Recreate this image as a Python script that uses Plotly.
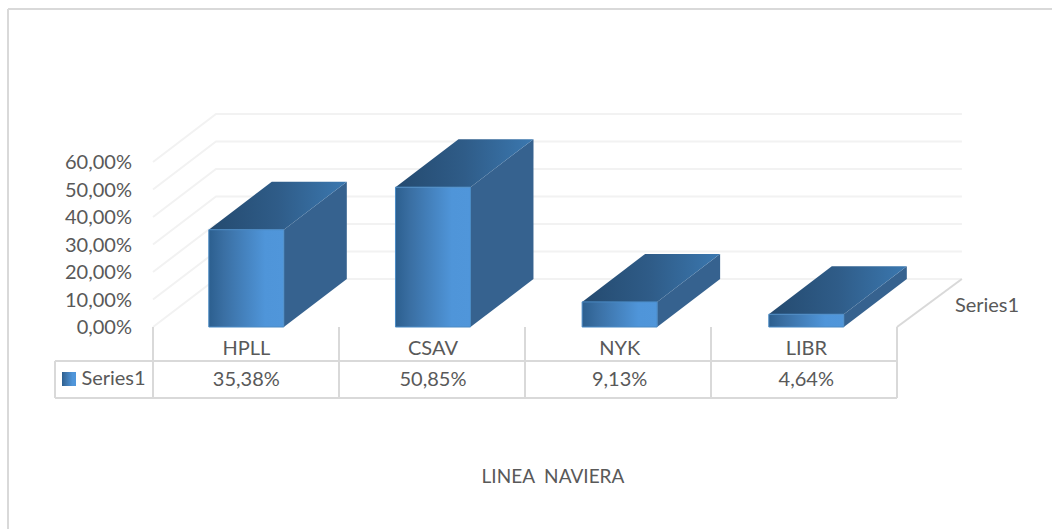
import plotly.graph_objects as go

categories = ["HPLL", "CSAV", "NYK", "LIBR"]
values = [35.38, 50.85, 9.13, 4.64]
value_labels = ["35,38%", "50,85%", "9,13%", "4,64%"]
y_ticks = [0, 10, 20, 30, 40, 50, 60]
y_tick_labels = ["0,00%", "10,00%", "20,00%", "30,00%", "40,00%", "50,00%", "60,00%"]
series_name = "Series1"
axis_title = "LINEA  NAVIERA"

W, H = 1052, 529
FONT = "Lato"
TXT = "#595959"
FS = 20
CAT_PX = 186.67
X0_PX = 246.3          # pixel of first category centre
Y0_PX = 327.0          # pixel of value 0 on the front plane
PX_PER_UNIT = 2.75


def X(px):
    return (px - X0_PX) / CAT_PX


def Y(py):
    return (Y0_PX - py) / PX_PER_UNIT


DX = 63 / CAT_PX
DY = 48 / PX_PER_UNIT
BAR_W = 75 / CAT_PX
LEFT, RIGHT = X(153), X(897)

fig = go.Figure()


def line(xs, ys, color, width):
    fig.add_trace(go.Scatter(x=xs, y=ys, mode="lines", hoverinfo="skip",
                             line=dict(color=color, width=width)))


def poly(xs, ys, fill=None, grad=None, edge="rgba(0,0,0,0)"):
    kw = dict(fillcolor=fill) if fill else dict(
        fillgradient=dict(type="horizontal", colorscale=grad))
    fig.add_trace(go.Scatter(x=xs + xs[:1], y=ys + ys[:1], mode="lines", fill="toself",
                             hoverinfo="skip", line=dict(color=edge, width=1), **kw))


def label(px, py, text, size=FS):
    fig.add_trace(go.Scatter(x=[X(px)], y=[Y(py)], text=[text], mode="text", hoverinfo="skip",
                             textfont=dict(family=FONT, size=size, color=TXT)))


# walls: gridlines on the left wall and back wall
GRID = "#f2f2f2"
for t in y_ticks:
    line([LEFT, LEFT + DX, RIGHT + DX + 0.01], [t, t + DY, t + DY], GRID, 2)

# floor edge at the right
line([RIGHT, RIGHT + DX + 0.01], [0, DY], "#d9d9d9", 2)

# bars
FRONT = [[0, "#2c5f8f"], [0.2, "#3a6fa3"], [0.75, "#4f95d9"], [1, "#5096da"]]
TOP = [[0, "#244a6f"], [0.5, "#2f5c88"], [1, "#3b78b0"]]
SIDE = "#36628f"
EDGE = "#4a8ac4"
for i, v in enumerate(values):
    l, r = i - BAR_W / 2, i + BAR_W / 2
    poly([r, r + DX, r + DX, r], [0, DY, v + DY, v], fill=SIDE)
    poly([l, r, r + DX, l + DX], [v, v, v + DY, v + DY], grad=TOP)
    poly([l, r, r, l], [0, 0, v, v], grad=FRONT, edge=EDGE)

# data table
TBL = "#d9d9d9"
ROW1 = Y(361)
ROW2 = Y(398)
TBL_LEFT = X(55)
for k in range(len(categories) + 1):
    vx = LEFT + k * (RIGHT - LEFT) / len(categories)
    line([vx, vx], [0, ROW2], TBL, 2)
line([TBL_LEFT, RIGHT], [ROW1, ROW1], TBL, 2)
line([TBL_LEFT, RIGHT], [ROW2, ROW2], TBL, 2)
line([TBL_LEFT, TBL_LEFT], [ROW1, ROW2], TBL, 2)

fig.add_trace(go.Scatter(x=list(range(len(categories))), y=[Y(381)] * len(categories),
                         text=value_labels, mode="text", hoverinfo="skip",
                         textfont=dict(family=FONT, size=FS, color=TXT)))
label(113.5, 380, series_name)
poly([X(62), X(76), X(76), X(62)], [Y(386), Y(386), Y(372), Y(372)], grad=FRONT)

# depth axis label and axis title
label(987, 307, series_name)
label(553, 478, axis_title, 19)

fig.update_layout(
    width=W, height=H, margin=dict(l=0, r=0, t=0, b=0),
    paper_bgcolor="white", plot_bgcolor="white", showlegend=False,
    xaxis=dict(range=[X(0), X(W)], domain=[0, 1], anchor="free", position=(H - Y0_PX) / H,
               tickmode="array", tickvals=list(range(len(categories))), ticktext=categories,
               showgrid=False, zeroline=False, showline=False, ticks="outside", ticklen=3,
               tickcolor="rgba(0,0,0,0)", tickfont=dict(family=FONT, size=FS, color=TXT)),
    yaxis=dict(range=[Y(H), Y(0)], domain=[0, 1], anchor="free", position=153 / W,
               tickmode="array", tickvals=y_ticks, ticktext=y_tick_labels,
               showgrid=False, zeroline=False, showline=False, ticks="outside", ticklen=17,
               tickcolor="rgba(0,0,0,0)", tickfont=dict(family=FONT, size=FS, color=TXT)),
    shapes=[
        dict(type="line", xref="paper", yref="paper", x0=8 / W, x1=1, y0=1 - 9 / H, y1=1 - 9 / H,
             line=dict(color="#d9d9d9", width=2)),
        dict(type="line", xref="paper", yref="paper", x0=8 / W, x1=8 / W, y0=0, y1=1 - 9 / H,
             line=dict(color="#d9d9d9", width=2)),
    ],
)

fig.write_html("out.html", post_script="document.body.style.margin='0';document.body.style.overflow='hidden';",
               config=dict(displayModeBar=False))
